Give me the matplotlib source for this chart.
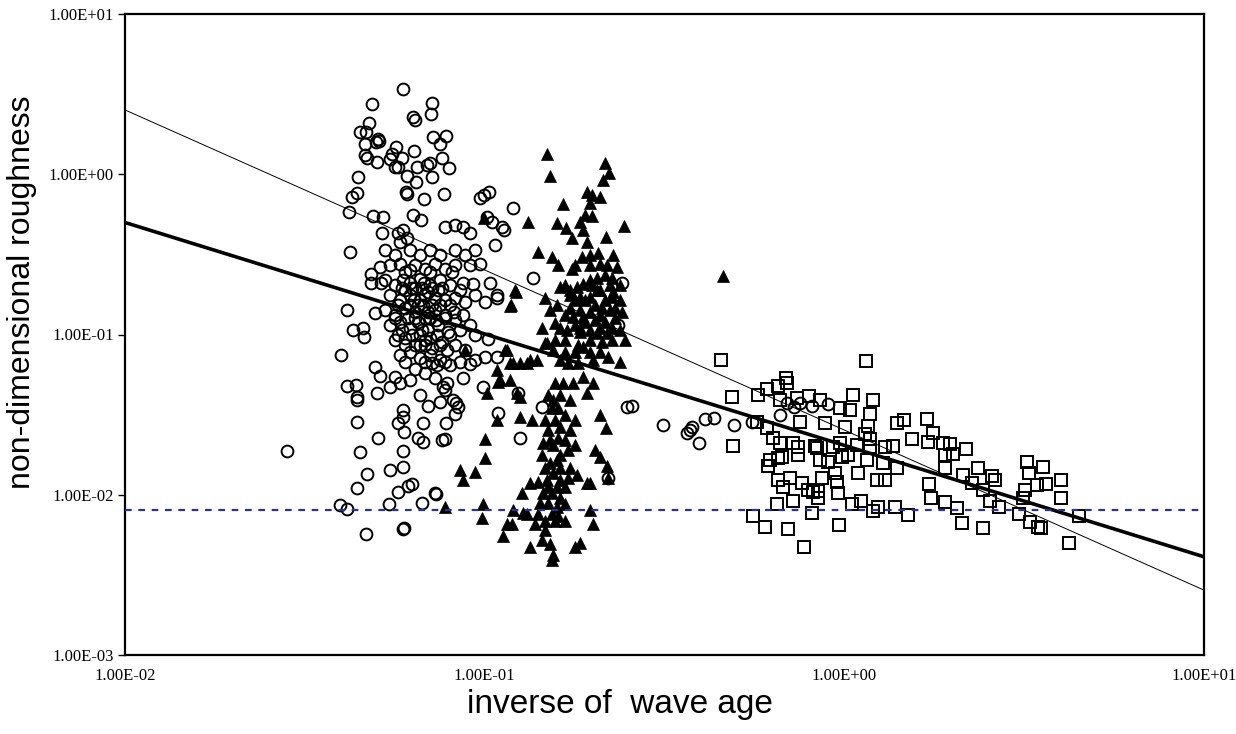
import numpy as np
import matplotlib
matplotlib.use("Agg")
import matplotlib.pyplot as plt
from matplotlib.ticker import FixedLocator, FuncFormatter

# open circles
circ_x = [0.0593, 0.0486, 0.0714, 0.0710, 0.0632, 0.0640, 0.0477, 0.0450, 0.0468, 0.0506,
          0.0509, 0.0499, 0.0719, 0.0781, 0.0751, 0.0465, 0.0568, 0.0636, 0.0465, 0.0471,
          0.0551, 0.0544, 0.0590, 0.0503, 0.0564, 0.0575, 0.0649, 0.0692, 0.0705, 0.0761,
          0.0796, 0.0608, 0.0714, 0.0644, 0.0445, 0.0442, 0.0428, 0.0604, 0.0608, 0.0770,
          0.0679, 0.0971, 0.0996, 0.1028, 0.0419, 0.0489, 0.0521, 0.0632, 0.0665, 0.0517,
          0.0422, 0.0573, 0.0593, 0.0582, 0.0608, 0.0776, 0.0827, 0.0870, 0.0910, 0.1016,
          0.1049, 0.1201, 0.1117, 0.1131, 0.1069, 0.1363, 0.241, 0.235, 0.1083, 0.249,
          0.257, 0.313, 0.220, 0.1254, 0.1089, 0.1444, 0.1239, 0.0989, 0.0728, 0.0668,
          0.365, 0.372, 0.377, 0.394, 0.410, 0.434, 0.493, 0.554, 0.662, 0.694,
          0.723, 0.753, 0.811, 0.90, 0.0282, 0.0442, 0.0450, 0.0506, 0.0573, 0.0593,
          0.0593, 0.0597, 0.0593, 0.0593, 0.0544, 0.0471, 0.0442, 0.0396, 0.0413, 0.0541,
          0.0575, 0.0612, 0.0628, 0.0733, 0.0468, 0.0593, 0.0597, 0.0674, 0.0652, 0.0674,
          0.0761, 0.0776, 0.0781, 0.0696, 0.0827, 0.0842, 0.0442, 0.0512, 0.0483, 0.0483,
          0.0515, 0.0413, 0.0496, 0.0431, 0.0459, 0.0462, 0.0399, 0.0496, 0.0512, 0.0413,
          0.0439, 0.0442, 0.0503, 0.0547, 0.0564, 0.0582, 0.062, 0.0593, 0.0870, 0.0930,
          0.1035, 0.1002, 0.108, 0.0823, 0.0870, 0.1022, 0.1002, 0.108, 0.0870, 0.0786,
          0.0765, 0.0817, 0.0834, 0.0751, 0.0786, 0.0738, 0.0714, 0.0910, 0.0940,
          0.0528, 0.0563, 0.0620, 0.0661, 0.0705, 0.0751, 0.0827, 0.0882, 0.0940,
          0.0546, 0.0582, 0.0640, 0.0682, 0.0728, 0.0776, 0.0827, 0.0910, 0.0971,
          0.0528, 0.0563, 0.0620, 0.0661, 0.0705, 0.0751, 0.0801, 0.0854, 0.0940,
          0.0546, 0.0582, 0.0620, 0.0661, 0.0696, 0.0728, 0.0776, 0.0827, 0.0882,
          0.0528, 0.0563, 0.0600, 0.0640, 0.0682, 0.0728, 0.0776, 0.0827, 0.0910,
          0.0546, 0.0582, 0.0620, 0.0652, 0.0696, 0.0742, 0.0791, 0.0854, 0.0940,
          0.0563, 0.0600, 0.0640, 0.0682, 0.0714, 0.0761, 0.0827, 0.0882,
          0.0582, 0.0620, 0.0661, 0.0705, 0.0751, 0.0801, 0.0640, 0.0682, 0.0728,
          0.0620, 0.0776, 0.0661,
          0.0600, 0.0640, 0.0682, 0.0714, 0.0652, 0.0612, 0.0670, 0.0705, 0.0628, 0.0733,
          0.0590, 0.0661, 0.0696, 0.0636, 0.0742, 0.0678,
          0.0590, 0.0628, 0.0670, 0.0714, 0.0761, 0.0575, 0.0620, 0.0674, 0.0751, 0.0801,
          0.0563, 0.0640, 0.0705, 0.0776, 0.0575, 0.0661, 0.0738, 0.0801, 0.0600, 0.0682,
          0.0751, 0.0600, 0.0682, 0.0776, 0.0854, 0.0600, 0.0705, 0.0811]
circ_y = [3.41, 2.75, 2.79, 2.38, 2.27, 2.18, 2.09, 1.84, 1.84, 1.66,
          1.62, 1.59, 1.71, 1.74, 1.55, 1.55, 1.48, 1.40, 1.32, 1.27,
          1.34, 1.25, 1.27, 1.19, 1.11, 1.11, 1.11, 1.14, 1.17, 1.27,
          1.09, 0.975, 0.96, 0.893, 0.96, 0.763, 0.72, 0.775, 0.752, 0.752,
          0.70, 0.71, 0.74, 0.775, 0.58, 0.55, 0.54, 0.56, 0.518, 0.43,
          0.326, 0.43, 0.448, 0.377, 0.40, 0.47, 0.48, 0.47, 0.43, 0.54,
          0.50, 0.617, 0.47, 0.448, 0.36, 0.225, 0.210, 0.114, 0.176, 0.0352,
          0.0357, 0.0272, 0.0127, 0.0225, 0.0322, 0.0352, 0.0430, 0.047, 0.0102, 0.00882,
          0.0242, 0.0253, 0.0264, 0.0209, 0.0296, 0.030, 0.0272, 0.0285, 0.0316, 0.0372,
          0.0352, 0.0372, 0.036, 0.0367, 0.0187, 0.0285, 0.0185, 0.0225, 0.0281, 0.0337,
          0.0306, 0.0247, 0.0187, 0.0149, 0.0142, 0.0135, 0.0110, 0.00862, 0.0081, 0.0087,
          0.0104, 0.0114, 0.0116, 0.0101, 0.00565, 0.0061, 0.0062, 0.0281, 0.0225, 0.0213,
          0.0219, 0.0222, 0.0281, 0.0357, 0.0318, 0.0352, 0.0389, 0.262, 0.237, 0.21,
          0.21, 0.142, 0.136, 0.106, 0.11, 0.097, 0.075, 0.0627, 0.0547, 0.0476,
          0.0483, 0.0407, 0.043, 0.047, 0.054, 0.0497, 0.252, 0.218, 0.210, 0.207,
          0.210, 0.160, 0.170, 0.138, 0.132, 0.0942, 0.0725, 0.0725, 0.0538, 0.0497,
          0.047, 0.0389, 0.0372, 0.0378, 0.0798, 0.0643, 0.0663, 0.0652, 0.0691,
          0.336, 0.313, 0.336, 0.313, 0.336, 0.313, 0.336, 0.313, 0.336,
          0.271, 0.276, 0.271, 0.256, 0.276, 0.256, 0.271, 0.271, 0.276,
          0.218, 0.203, 0.211, 0.222, 0.203, 0.218, 0.203, 0.189, 0.176,
          0.176, 0.164, 0.176, 0.164, 0.184, 0.169, 0.164, 0.169, 0.159,
          0.142, 0.132, 0.146, 0.138, 0.127, 0.142, 0.132, 0.123, 0.114,
          0.114, 0.119, 0.110, 0.119, 0.106, 0.114, 0.103, 0.106, 0.099,
          0.0922, 0.0949, 0.0858, 0.0922, 0.0823, 0.0895, 0.0858, 0.0798,
          0.0743, 0.0775, 0.0712, 0.0743, 0.0691, 0.0643, 0.0613, 0.0575, 0.0534,
          0.0519, 0.0449, 0.0418,
          0.189, 0.194, 0.176, 0.152, 0.152, 0.127, 0.106, 0.0949, 0.099, 0.123,
          0.106, 0.0858, 0.138, 0.164, 0.189, 0.211,
          0.194, 0.194, 0.194, 0.194, 0.194, 0.152, 0.152, 0.152, 0.152, 0.152,
          0.127, 0.127, 0.127, 0.127, 0.099, 0.099, 0.099, 0.099, 0.0858, 0.0858,
          0.0858, 0.0672, 0.0672, 0.0672, 0.0672, 0.245, 0.245, 0.245]

# filled triangles
tri_x = [0.1491, 0.1519, 0.2160, 0.2216, 0.2133, 0.1926, 0.1988, 0.2092, 0.1963, 0.1651,
         0.1320, 0.1589, 0.1683, 0.1749, 0.1841, 0.1901, 0.1988, 0.1877, 0.1926, 0.2439,
         0.2174, 0.1407, 0.1539, 0.1599, 0.1749, 0.1865, 0.1963, 0.2066, 0.2274, 0.2333,
         0.2092, 0.1222, 0.1183, 0.1620, 0.1472, 0.1519, 0.1589, 0.1727, 0.1806, 0.1877,
         0.1963, 0.2053, 0.2160, 0.2259, 0.2274, 0.2053, 0.1444, 0.1569, 0.1694, 0.1491,
         0.2053, 0.2188, 0.1841, 0.1760, 0.1877, 0.1963, 0.2378, 0.2378, 0.2202, 0.2092,
         0.2001, 0.1877, 0.1818, 0.1705, 0.1620, 0.1549, 0.1472, 0.1398, 0.1337, 0.1254,
         0.1176, 0.1139, 0.1103, 0.1082, 0.1569, 0.1651, 0.1760, 0.1926, 0.2001, 0.1877,
         0.1089, 0.1254, 0.1254, 0.1354, 0.1082, 0.1003, 0.1003, 0.0940, 0.0854, 0.0870,
         0.0776, 0.0990, 0.0984, 0.2092, 0.2174, 0.2027, 0.2092, 0.2188, 0.2202, 0.1963,
         0.1963, 0.2001, 0.1539, 0.1599, 0.1620, 0.1727, 0.1453, 0.1519, 0.1599, 0.1672,
         0.1705, 0.1620, 0.1444, 0.1519, 0.1589, 0.1337, 0.1270, 0.1407, 0.1491, 0.1549,
         0.1620, 0.1705, 0.1806, 0.1926, 0.1453, 0.1539, 0.1620, 0.1425, 0.1500, 0.1589,
         0.1672, 0.1407, 0.1539, 0.1599, 0.1278, 0.1311, 0.1380, 0.1199, 0.1154, 0.1191,
         0.1124, 0.1472, 0.1444, 0.1519, 0.1549, 0.1337, 0.1783, 0.1841, 0.1539, 0.1230,
         0.0882, 0.1154, 0.1199, 0.1311, 0.1176, 0.1016, 0.4601, 0.0997, 0.1214, 0.1176,
         0.1783, 0.1901, 0.2027, 0.2160, 0.1841, 0.1963, 0.2092, 0.2231, 0.1783, 0.1901,
         0.2027, 0.2160, 0.2303, 0.1672, 0.2092, 0.2231, 0.1818, 0.1963, 0.2119, 0.2259,
         0.1672, 0.1569, 0.1727, 0.2378, 0.2409, 0.2455,
         0.1620, 0.1727, 0.1500, 0.1472, 0.1672, 0.1569, 0.1500, 0.1783,
         0.1783, 0.1963, 0.2188, 0.1672, 0.1988, 0.2378, 0.1841, 0.1963, 0.2259, 0.1727,
         0.2119, 0.2303, 0.1620, 0.1841, 0.2092, 0.2259, 0.1672, 0.1783, 0.1963,
         0.1549, 0.1783, 0.1472, 0.1620, 0.1727, 0.1500, 0.1589, 0.1672, 0.1472, 0.1569,
         0.1672, 0.1549]
tri_y = [1.34, 0.974, 1.17, 1.015, 0.920, 0.775, 0.742, 0.718, 0.657, 0.648,
         0.504, 0.497, 0.463, 0.398, 0.504, 0.556, 0.548, 0.448, 0.377, 0.476,
         0.404, 0.327, 0.304, 0.271, 0.256, 0.304, 0.313, 0.322, 0.313, 0.262,
         0.276, 0.184, 0.152, 0.197, 0.169, 0.142, 0.152, 0.189, 0.197, 0.208,
         0.218, 0.225, 0.235, 0.225, 0.184, 0.189, 0.110, 0.118, 0.106, 0.0882,
         0.102, 0.102, 0.103, 0.128, 0.128, 0.106, 0.106, 0.0672, 0.0722, 0.0775,
         0.0691, 0.0834, 0.0662, 0.0662, 0.0691, 0.0798, 0.0882, 0.0691, 0.0691, 0.0662,
         0.0662, 0.0798, 0.0519, 0.0599, 0.0497, 0.0497, 0.0497, 0.0430, 0.0497, 0.0540,
         0.0504, 0.0407, 0.0305, 0.0292, 0.0292, 0.0222, 0.0169, 0.0138, 0.0142, 0.0123,
         0.0084, 0.0087, 0.0072, 0.0314, 0.0260, 0.0189, 0.0171, 0.0152, 0.0128, 0.0118,
         0.0080, 0.0066, 0.0346, 0.0346, 0.0264, 0.0253, 0.0210, 0.0219, 0.0225, 0.0219,
         0.0189, 0.0176, 0.0176, 0.0157, 0.0164, 0.0118, 0.0103, 0.0120, 0.0123, 0.0136,
         0.0123, 0.0128, 0.0132, 0.0118, 0.0102, 0.0102, 0.0096, 0.0089, 0.0089, 0.0084,
         0.0087, 0.0076, 0.0076, 0.0074, 0.0077, 0.0076, 0.0066, 0.0080, 0.0066, 0.0066,
         0.0055, 0.0060, 0.0052, 0.0049, 0.0042, 0.0047, 0.0047, 0.0050, 0.0039, 0.0430,
         0.0798, 0.0798, 0.0662, 0.0662, 0.0519, 0.0430, 0.231, 0.533, 0.189, 0.150,
         0.164, 0.164, 0.152, 0.164, 0.142, 0.138, 0.132, 0.142, 0.114, 0.119,
         0.123, 0.119, 0.127, 0.132, 0.189, 0.203, 0.0858, 0.0922, 0.0895, 0.0922,
         0.0922, 0.0922, 0.176, 0.164, 0.138, 0.0922,
         0.0418, 0.0389, 0.0418, 0.0292, 0.0314, 0.0292, 0.0253, 0.0292,
         0.271, 0.271, 0.271, 0.203, 0.203, 0.203, 0.171, 0.171, 0.171, 0.146,
         0.146, 0.146, 0.110, 0.110, 0.110, 0.110, 0.0775, 0.0775, 0.0775,
         0.0204, 0.0204, 0.0146, 0.0146, 0.0146, 0.0111, 0.0111, 0.0111, 0.0069, 0.0069,
         0.0069, 0.0389]

# open squares
sq_x = [0.454, 1.147, 0.487, 0.491, 0.575, 0.609, 0.654, 0.688, 0.693, 0.662,
        0.738, 0.797, 0.855, 0.972, 1.056, 1.200, 1.177, 1.036, 1.162, 1.140,
        1.177, 0.572, 0.609, 0.633, 0.662, 0.753, 0.883, 1.004, 0.720, 0.743,
        0.828, 0.839, 0.929, 0.972, 1.083, 1.177, 1.295, 1.363, 1.399, 1.463,
        1.539, 1.694, 1.760, 1.705, 1.875, 1.961, 1.899, 1.999, 2.173, 0.621,
        0.613, 0.654, 0.671, 0.743, 0.855, 0.900, 0.985, 1.023, 1.155, 1.279,
        1.399, 0.654, 0.675, 0.706, 0.762, 0.792, 0.844, 0.866, 0.941, 0.953,
        0.959, 1.090, 1.231, 1.295, 0.720, 0.649, 0.844, 0.818, 0.557, 0.601,
        0.697, 0.772, 0.813, 0.966, 1.049, 1.111, 1.200, 1.239, 1.381, 1.500,
        1.716, 1.738, 1.899, 1.899, 2.051, 2.118, 2.437, 2.132, 2.346, 2.567,
        2.616, 2.422, 2.258, 2.684, 2.534, 3.058, 3.137, 3.177, 3.218, 3.259,
        3.562, 3.648, 3.428, 4.008, 4.008, 3.280, 3.450, 3.517, 4.218, 4.494]
sq_y = [0.0691, 0.0681, 0.0410, 0.0201, 0.0422, 0.0454, 0.0474, 0.0534, 0.0497, 0.0389,
        0.0404, 0.0416, 0.0389, 0.0346, 0.0422, 0.0392, 0.0320, 0.0337, 0.0268, 0.0240,
        0.0222, 0.0284, 0.0260, 0.0225, 0.0210, 0.0284, 0.0280, 0.0264, 0.0210, 0.0198,
        0.0201, 0.0196, 0.0198, 0.0210, 0.0204, 0.0198, 0.0198, 0.0201, 0.0280, 0.0292,
        0.0222, 0.0297, 0.0243, 0.0213, 0.0210, 0.0207, 0.0176, 0.0179, 0.0193, 0.0164,
        0.0152, 0.0169, 0.0171, 0.0176, 0.0164, 0.0159, 0.0171, 0.0176, 0.0164, 0.0157,
        0.0146, 0.0123, 0.0111, 0.0128, 0.0118, 0.0107, 0.0106, 0.0128, 0.0136, 0.0120,
        0.0103, 0.0136, 0.0123, 0.0123, 0.0092, 0.0087, 0.0096, 0.0104, 0.0074, 0.0063,
        0.0061, 0.0047, 0.0077, 0.0065, 0.0087, 0.0092, 0.0079, 0.0084, 0.0084, 0.0075,
        0.0116, 0.0095, 0.0146, 0.0090, 0.0083, 0.0067, 0.0062, 0.0132, 0.0146, 0.0130,
        0.0123, 0.0107, 0.0118, 0.0084, 0.0092, 0.0076, 0.0095, 0.0107, 0.0159, 0.0136,
        0.0148, 0.0116, 0.0115, 0.0123, 0.0095, 0.0068, 0.0063, 0.0062, 0.0050, 0.0074]

# fitted lines (end points) and reference level
fit_thick_x = [0.01, 10.0]
fit_thick_y = [0.50, 0.0041]
fit_thin_x = [0.01, 10.0]
fit_thin_y = [2.52, 0.00254]
ref_level = 0.0080

tick_vals_x = [0.01, 0.1, 1.0, 10.0]
tick_vals_y = [0.001, 0.01, 0.1, 1.0, 10.0]

fig = plt.figure(figsize=(12.36, 7.34), dpi=100)
ax = fig.add_axes([125 / 1236, 1 - 655 / 734, (1204 - 125) / 1236, (655 - 14) / 734])
ax.set_xscale('log')
ax.set_yscale('log')
ax.set_xlim(0.01, 10)
ax.set_ylim(0.001, 10)

ax.plot(circ_x, circ_y, 'o', mfc='none', mec='black', ms=8.5, mew=1.4, zorder=2)
ax.plot(tri_x, tri_y, '^', mfc='black', mec='black', ms=8.5, mew=0.5, zorder=2)
ax.plot(sq_x, sq_y, 's', mfc='none', mec='black', ms=8.5, mew=1.4, zorder=2)

ax.plot(fit_thin_x, fit_thin_y, color='black', lw=0.7, zorder=3)
ax.plot(fit_thick_x, fit_thick_y, color='black', lw=2.6, zorder=3)
ax.axhline(ref_level, color='#2e3192', lw=1.6, ls=(0, (3, 3)), zorder=3)

fmt = FuncFormatter(lambda v, p: '{:.2E}'.format(v))
ax.xaxis.set_major_locator(FixedLocator(tick_vals_x))
ax.yaxis.set_major_locator(FixedLocator(tick_vals_y))
ax.xaxis.set_major_formatter(fmt)
ax.yaxis.set_major_formatter(fmt)
ax.minorticks_off()
ax.tick_params(axis='y', direction='out', length=5, width=1, pad=3)
ax.tick_params(axis='x', direction='out', length=0, pad=9)
for lab in ax.get_xticklabels() + ax.get_yticklabels():
    lab.set_fontfamily('Liberation Serif')
    lab.set_fontsize(12)
for sp in ax.spines.values():
    sp.set_linewidth(1.6)

fig.text(620 / 1236, 1 - 705 / 734, 'inverse of  wave age', ha='center', va='center',
         fontsize=24, family='Liberation Sans')
fig.text(22 / 1236, 1 - 292 / 734, 'non-dimensional roughness', ha='center', va='center',
         rotation=90, fontsize=23, family='Liberation Sans')

fig.savefig('out.png', dpi=100)
